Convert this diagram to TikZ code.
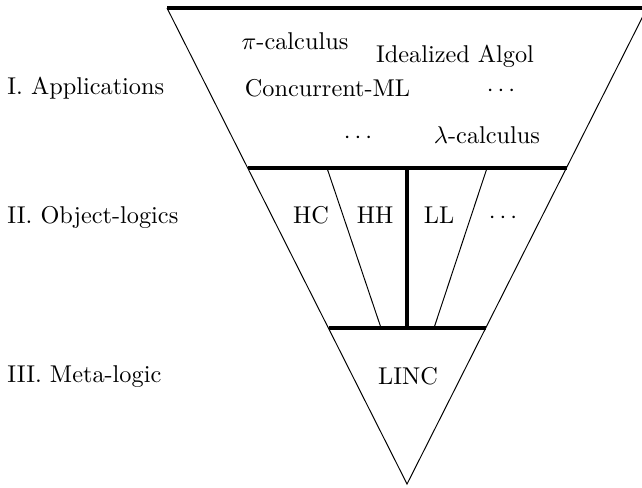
\documentclass[tikz,border=0pt]{standalone}
\begin{document}
\begin{tikzpicture}[scale=1]
		\useasboundingbox (0,0) rectangle (9.287,7.045);
		\tikzset{bar/.style={line width=1.4pt}, txt/.style={anchor=base,inner sep=0pt}, lvl/.style={anchor=base west,inner sep=0pt}}
		\draw (2.416,6.929) -- (5.888,0.043) -- (9.360,6.929);
		\draw[bar] (2.416,6.929) -- (9.360,6.929);
		\draw[bar] (3.585,4.615) -- (8.195,4.615);
		\draw[bar] (4.752,2.300) -- (7.028,2.300);
		\draw[bar] (5.888,4.615) -- (5.888,2.300);
		\draw (4.730,4.615) -- (5.512,2.300);
		\draw (7.045,4.615) -- (6.278,2.300);
		\node[txt] (pi) at (4.268,6.336) {$\pi$-calculus};
		\node[txt] (ia) at (6.582,6.134) {Idealized Algol};
		\node[txt] (cml) at (4.738,5.656) {Concurrent-ML};
		\node[txt] (ad1) at (7.247,5.656) {$\cdots$};
		\node[txt] (ad2) at (5.179,4.962) {$\cdots$};
		\node[txt] (lam) at (7.045,4.962) {$\lambda$-calculus};
		\node[txt] (hc) at (4.499,3.805) {HC};
		\node[txt] (hh) at (5.425,3.805) {HH};
		\node[txt] (ll) at (6.351,3.805) {LL};
		\node[txt] (od) at (7.276,3.805) {$\cdots$};
		\node[txt] (linc) at (5.902,1.490) {LINC};
		\node[lvl] (app) at (0.101,5.671) {I. Applications};
		\node[lvl] (obj) at (0.101,3.819) {II. Object-logics};
		\node[lvl] (meta) at (0.101,1.519) {III. Meta-logic};
	\end{tikzpicture}
\end{document}
